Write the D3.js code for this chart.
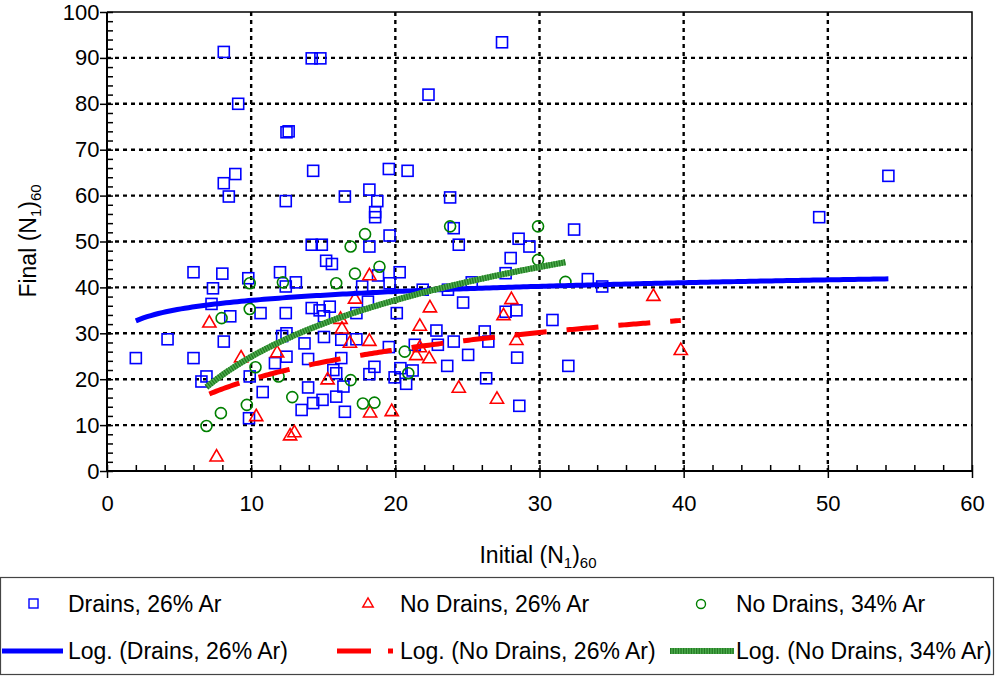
<!DOCTYPE html>
<html>
<head>
<meta charset="utf-8">
<script src="https://cdn.jsdelivr.net/npm/d3@7"></script>
<style>
  body { margin: 0; background: #fff; }
  svg { display: block; }
  text { font-family: Arial, "Liberation Sans", sans-serif; fill: #000; }
</style>
</head>
<body>
<svg id="chart" width="996" height="676"></svg>
<script>
// Initial vs final (N1)60 — three site groups
const drains26 = [
  [8.1,91.3],[9.1,80.0],[8.9,64.7],[8.1,62.7],[8.45,59.8],[14.2,89.9],[14.8,89.9],
  [12.45,73.8],[12.6,74.0],[14.3,65.4],[12.4,58.8],[16.5,59.8],[18.2,61.3],[18.75,58.8],
  [18.6,56.4],[18.6,55.3],[19.55,65.8],[20.85,65.4],[27.4,93.4],[22.3,82.0],[23.8,59.6],
  [24.05,52.9],[32.4,52.6],[19.6,51.3],[24.4,49.3],[28.55,50.6],[29.3,48.9],[14.2,49.3],
  [14.9,49.3],[18.2,48.9],[49.4,55.3],[54.2,64.3],[33.35,41.8],[34.35,40.2],[32.0,22.9],
  [28.0,46.4],[20.3,43.3],[19.6,40.9],[27.65,43.1],[21.9,39.5],[23.65,39.5],[25.3,41.1],
  [24.7,36.7],[27.65,34.7],[28.4,35.0],[20.1,34.4],[30.9,32.9],[22.85,30.6],[26.2,30.4],
  [26.45,28.2],[24.05,28.2],[22.95,27.5],[21.35,27.5],[19.55,27.0],[25.05,25.3],[28.45,24.7],
  [23.6,22.9],[20.35,22.4],[21.2,21.9],[19.95,20.4],[20.75,19.0],[26.3,20.2],[28.6,14.2],
  [15.2,45.8],[15.6,45.1],[12.0,43.3],[9.8,42.0],[12.4,40.2],[13.1,41.1],[18.8,42.6],
  [17.7,40.2],[18.1,36.9],[10.65,34.4],[12.4,34.4],[14.2,35.5],[14.75,35.0],[15.45,35.8],
  [15.05,33.7],[12.15,29.4],[12.45,30.0],[13.7,27.8],[15.05,29.2],[16.25,28.6],[17.3,28.7],
  [12.45,24.9],[11.65,23.5],[13.95,24.4],[9.9,20.6],[16.25,24.6],[15.7,22.0],[15.9,21.3],
  [16.4,18.4],[13.95,18.2],[10.8,17.2],[14.3,14.8],[14.95,15.5],[15.9,16.2],[13.5,13.3],
  [16.5,12.9],[9.85,11.5],[6.0,43.3],[8.0,43.0],[7.35,39.8],[7.25,36.4],[8.55,33.7],
  [4.2,28.7],[8.1,28.2],[2.0,24.6],[6.0,24.6],[6.9,20.6],[6.55,19.5],[17.3,34.4],
  [18.55,22.7],[18.2,21.1]
];

const noDrains26 = [
  [37.9,38.0],[39.8,26.2],[22.4,35.5],[28.05,37.3],[27.5,33.8],[21.7,31.5],[28.4,28.4],
  [21.7,26.8],[21.45,25.1],[22.35,24.4],[24.4,18.0],[27.05,15.6],[19.75,12.9],[18.2,42.5],
  [17.2,37.4],[16.3,30.9],[16.85,27.8],[18.2,28.2],[11.8,25.7],[15.3,19.8],[10.35,11.8],
  [18.25,12.6],[12.7,7.6],[13.0,8.3],[7.1,32.2],[9.3,24.6],[7.6,3.0],[16.2,33.0]
];

const noDrains34 = [
  [23.8,53.3],[29.9,53.3],[17.9,51.6],[16.9,48.9],[29.9,46.0],[31.8,41.2],[18.9,44.5],
  [20.65,26.0],[20.9,21.3],[17.75,14.7],[18.55,14.9],[9.9,40.9],[12.2,41.1],[15.9,40.9],
  [17.2,43.0],[9.9,35.3],[10.3,22.6],[11.9,20.6],[16.9,19.8],[12.85,16.1],[9.7,14.4],
  [7.95,33.3],[7.9,12.6],[6.9,9.8]
];

// Logarithmic trend coefficients: y = a*ln(x) + b
const trendDrains26 = [2.78, 30.77];
const trendNoDrains26 = [9.3, -1.46];
const trendNoDrains34 = [17.8, -16.1];

const xTicks = [0, 10, 20, 30, 40, 50, 60];
const yTicks = [0, 10, 20, 30, 40, 50, 60, 70, 80, 90, 100];
const xMinor = d3.range(0, 61, 2);
const yMinor = d3.range(0, 101, 2);

const legendLabels = [
  "Drains, 26% Ar", "No Drains, 26% Ar", "No Drains, 34% Ar",
  "Log. (Drains, 26% Ar)", "Log. (No Drains, 26% Ar)", "Log. (No Drains, 34% Ar)"
];

const BLUE = "#0000ff", RED = "#ff0000", GREEN = "#008000";
const FONT = 23, TICK_FONT = 22, SUB_FONT = 15;

const svg = d3.select("#chart");
const pL = 107, pR = 972, pT = 12, pB = 471;
const x = d3.scaleLinear().domain([0, 60]).range([pL, pR]);
const y = d3.scaleLinear().domain([0, 100]).range([pB, pT]);

// dotted grid
const grid = svg.append("g").attr("stroke", "#000").attr("stroke-width", 2.4)
  .attr("stroke-dasharray", "4,4");
grid.selectAll("line.h").data(yTicks.filter(v => v > 0 && v < 100)).join("line")
  .attr("x1", pL).attr("x2", pR).attr("y1", d => y(d)).attr("y2", d => y(d));
grid.selectAll("line.v").data(xTicks.filter(v => v > 0 && v < 60)).join("line")
  .attr("y1", pT).attr("y2", pB).attr("x1", d => x(d)).attr("x2", d => x(d));

// plot frame
svg.append("path")
  .attr("d", `M${pL},${pT}H${pR}V${pB}`)
  .attr("fill", "none").attr("stroke", "#000").attr("stroke-width", 1.5);

// axes: labels and outward major ticks
svg.append("g").attr("transform", `translate(${pL},0)`)
  .call(d3.axisLeft(y).tickValues(yTicks).tickSize(7).tickPadding(0.5));
svg.append("g").attr("transform", `translate(0,${pB})`)
  .call(d3.axisBottom(x).tickValues(xTicks).tickSize(7).tickPadding(17));
// inward minor ticks
svg.append("g").attr("transform", `translate(${pL},0)`)
  .call(d3.axisRight(y).tickValues(yMinor).tickSize(6).tickFormat(""));
svg.append("g").attr("transform", `translate(0,${pB})`)
  .call(d3.axisTop(x).tickValues(xMinor).tickSize(6).tickFormat(""));
svg.selectAll(".domain").remove();
svg.selectAll(".tick line").attr("stroke", "#000").attr("stroke-width", 1.5);
svg.selectAll(".tick text").attr("font-size", TICK_FONT)
  .attr("font-family", "Arial, 'Liberation Sans', sans-serif");

svg.append("path")
  .attr("d", `M${pL},${pT}V${pB}H${pR}`)
  .attr("fill", "none").attr("stroke", "#000").attr("stroke-width", 2);

// axis titles with subscripts
function titleWithSubs(g, pre) {
  const t = g.append("text").attr("font-size", FONT).attr("text-anchor", "middle");
  t.append("tspan").text(pre + " (N");
  t.append("tspan").attr("font-size", SUB_FONT).attr("dy", 5).text("1");
  t.append("tspan").attr("dy", -5).text(")");
  t.append("tspan").attr("font-size", SUB_FONT).attr("dy", 5).text("60");
  return t;
}
titleWithSubs(svg.append("g").attr("transform", "translate(538,563)"), "Initial");
titleWithSubs(svg.append("g").attr("transform", "translate(36,241) rotate(-90)"), "Final");

// markers
const markers = svg.append("g").attr("fill", "none").attr("stroke-width", 1.6);
markers.selectAll("rect.dr").data(drains26).join("rect")
  .attr("x", d => x(d[0]) - 5.5).attr("y", d => y(d[1]) - 5.5)
  .attr("width", 11).attr("height", 11).attr("stroke", BLUE);
const tri = d3.symbol().type(d3.symbolTriangle).size(75);
markers.selectAll("path.nd").data(noDrains26).join("path")
  .attr("d", tri).attr("transform", d => `translate(${x(d[0])},${y(d[1])})`)
  .attr("stroke", RED);
markers.selectAll("circle.n34").data(noDrains34).join("circle")
  .attr("cx", d => x(d[0])).attr("cy", d => y(d[1])).attr("r", 5.5)
  .attr("stroke", GREEN);

// log trend lines over each series' x extent
function trendPoints(data, coef) {
  const [lo, hi] = d3.extent(data, d => d[0]);
  return d3.range(0, 201).map(i => {
    const xv = lo + (hi - lo) * i / 200;
    return [xv, coef[0] * Math.log(xv) + coef[1]];
  });
}
const line = d3.line().x(d => x(d[0])).y(d => y(d[1]));

svg.append("path").datum(trendPoints(drains26, trendDrains26))
  .attr("d", line).attr("fill", "none").attr("stroke", BLUE).attr("stroke-width", 5);
svg.append("path").datum(trendPoints(noDrains26, trendNoDrains26))
  .attr("d", line).attr("fill", "none").attr("stroke", RED).attr("stroke-width", 5)
  .attr("stroke-dasharray", "32,20");
const g34 = trendPoints(noDrains34, trendNoDrains34);
svg.append("path").datum(g34).attr("d", line).attr("fill", "none")
  .attr("stroke", "#4fae4f").attr("stroke-width", 6);
svg.append("path").datum(g34).attr("d", line).attr("fill", "none")
  .attr("stroke", "#237a23").attr("stroke-width", 6).attr("stroke-dasharray", "1.3,1.3");

// legend
const lg = svg.append("g");
lg.append("rect").attr("x", 0.5).attr("y", 577.5).attr("width", 993).attr("height", 97)
  .attr("fill", "#fff").attr("stroke", "#444").attr("stroke-width", 1.2);
const row1 = 604, row2 = 651;
const textX = [68, 400, 736];
lg.append("rect").attr("x", 29).attr("y", row1 - 5).attr("width", 9).attr("height", 9)
  .attr("fill", "none").attr("stroke", BLUE).attr("stroke-width", 1.4);
lg.append("path").attr("d", d3.symbol().type(d3.symbolTriangle).size(48))
  .attr("transform", `translate(368,${row1})`).attr("fill", "none")
  .attr("stroke", RED).attr("stroke-width", 1.4);
lg.append("circle").attr("cx", 701).attr("cy", row1).attr("r", 4.5)
  .attr("fill", "none").attr("stroke", GREEN).attr("stroke-width", 1.4);
lg.append("line").attr("x1", 2).attr("x2", 63).attr("y1", row2).attr("y2", row2)
  .attr("stroke", BLUE).attr("stroke-width", 5);
lg.append("line").attr("x1", 337).attr("x2", 371).attr("y1", row2).attr("y2", row2)
  .attr("stroke", RED).attr("stroke-width", 5);
lg.append("line").attr("x1", 388).attr("x2", 393).attr("y1", row2).attr("y2", row2)
  .attr("stroke", RED).attr("stroke-width", 5);
lg.append("line").attr("x1", 670).attr("x2", 734).attr("y1", row2).attr("y2", row2)
  .attr("stroke", "#4fae4f").attr("stroke-width", 6);
lg.append("line").attr("x1", 670).attr("x2", 734).attr("y1", row2).attr("y2", row2)
  .attr("stroke", "#237a23").attr("stroke-width", 6).attr("stroke-dasharray", "1.3,1.3");
legendLabels.forEach((txt, i) => {
  lg.append("text").attr("x", textX[i % 3]).attr("y", (i < 3 ? row1 : row2) + 8)
    .attr("font-size", FONT).text(txt);
});
</script>
</body>
</html>
